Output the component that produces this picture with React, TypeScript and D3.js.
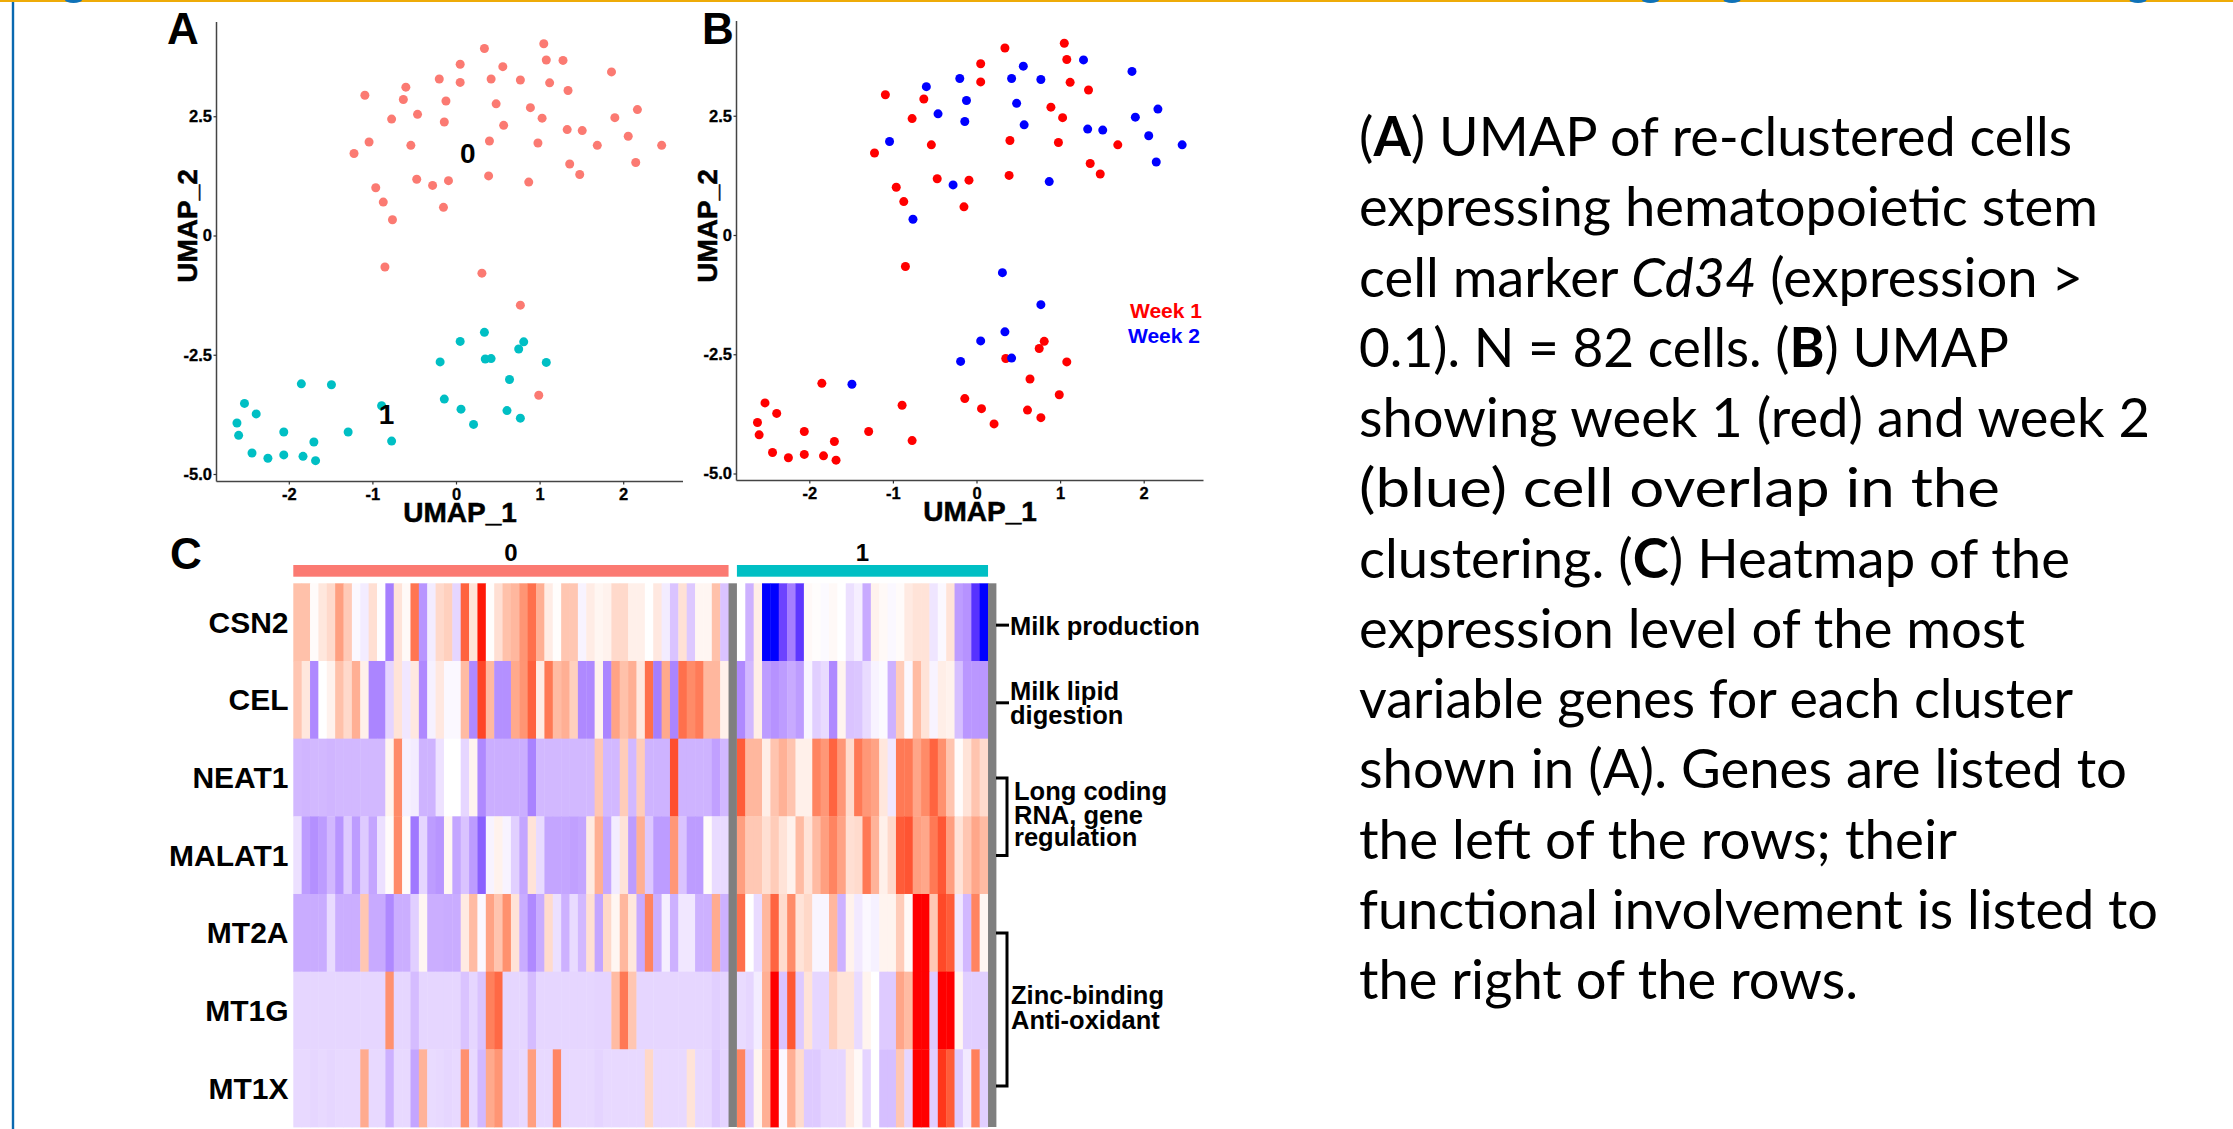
import React, { useEffect, useRef } from "react";
import * as d3 from "d3";

const WIDTH = 2233;
const HEIGHT = 1129;
const SANS = "'Liberation Sans', Arial, sans-serif";

// UMAP coordinates, one entry per cell
const umap1 = [
  0.34, 1.05, 1.08, 1.28, 0.05, 0.56, 1.86, -0.2, 0.42, 0.77, 0.05, 1.12, -0.6, 1.34, -1.09, -0.63, -0.12, 0.48, 0.89, 2.17,
  -0.46, 1.9, 1.03, -0.77, -0.14, 0.57, 1.33, 1.51, 2.06, 0.4, -1.04, 0.98, 1.69, 2.46, -0.54, -1.22, 1.36, 2.15, 1.48, 0.39,
  -0.47, -0.09, -0.28, 0.87, -0.96, -0.87, -0.15, -0.76, -0.85, 0.31, 0.77, 0.99,
  0.34, 0.05, 0.81, 0.75, 0.35, 0.42, -0.19, 1.08, 0.64, -0.14, 0.06, 0.61, 0.77, 0.21, -1.85, -1.49, -2.53, -2.39, -2.62, -2.6,
  -2.06, -1.29, -1.7, -0.77, -0.89, -2.44, -2.25, -2.06, -1.83, -1.68,
];
const umap2 = [
  3.92, 4.02, 3.68, 3.67, 3.59, 3.54, 3.43, 3.28, 3.28, 3.26, 3.21, 3.2, 3.11, 3.04, 2.94, 2.85, 2.82, 2.76, 2.68, 2.64,
  2.54, 2.47, 2.46, 2.44, 2.38, 2.31, 2.22, 2.2, 2.08, 1.98, 1.96, 1.94, 1.89, 1.89, 1.89, 1.72, 1.5, 1.53, 1.28, 1.25,
  1.18, 1.15, 1.05, 1.12, 1.0, 0.7, 0.59, 0.33, -0.66, -0.79, -1.46, -3.35,
  -2.03, -2.22, -2.23, -2.38, -2.59, -2.58, -2.65, -2.66, -3.02, -3.43, -3.64, -3.67, -3.83, -3.96, -3.11, -3.13, -3.52, -3.74, -3.93, -4.19,
  -4.12, -4.12, -4.33, -4.31, -3.57, -4.56, -4.67, -4.6, -4.63, -4.72,
];
const clusters = [
  0, 0, 0, 0, 0, 0, 0, 0, 0, 0, 0, 0, 0, 0, 0, 0, 0, 0, 0, 0, 0, 0, 0, 0, 0, 0,
  0, 0, 0, 0, 0, 0, 0, 0, 0, 0, 0, 0, 0, 0, 0, 0, 0, 0, 0, 0, 0, 0, 0, 0, 0, 0,
  1, 1, 1, 1, 1, 1, 1, 1, 1, 1, 1, 1, 1, 1, 1, 1, 1, 1, 1, 1, 1, 1, 1, 1, 1, 1, 1, 1, 1, 1,
];
const weeks = [
  1, 1, 1, 2, 1, 2, 2, 2, 2, 2, 1, 1, 2, 1, 1, 1, 2, 2, 1, 2,
  2, 2, 1, 1, 2, 2, 2, 2, 2, 1, 2, 1, 1, 2, 1, 1, 1, 2, 1, 1,
  1, 1, 2, 2, 1, 1, 1, 2, 1, 2, 2, 1,
  2, 2, 1, 1, 1, 2, 2, 1, 1, 1, 1, 1, 1, 1, 1, 2, 1, 1, 1, 1,
  1, 1, 1, 1, 1, 1, 1, 1, 1, 1,
];

const clusterLabels = [
  { name: "0", x: 0.14, y: 1.74 },
  { name: "1", x: -0.83, y: -3.73 },
];
const xTicks = [-2, -1, 0, 1, 2];
const yTicks = [2.5, 0, -2.5, -5];

// heatmap: 52 cells of cluster 0, then 30 cells of cluster 1
const genes = ["CSN2", "CEL", "NEAT1", "MALAT1", "MT2A", "MT1G", "MT1X"];
const csn2 = [
  0.33, 0.33, 0.02, 0.13, 0.2, 0.5, 0.28, -0.03, -0.08, 0.17, -0.01, -0.55, 0.15, 0.03, 0.7, -0.45, -0.08, 0.2, 0.25, -0.17,
  0.78, 0.15, 0.98, 0.01, 0.17, 0.33, 0.38, 0.55, 0.72, 0.42, 0.1, 0.01, 0.3, 0.3, -0.05, 0.1, 0.05, 0.07, 0.2, 0.2,
  0.08, 0.08, 0, 0.12, -0.08, -0.25, 0.16, -0.23, 0.05, 0.05, 0.33, -0.25,
  0, -0.33, 0.09, -1, -1, -0.8, -0.55, -0.85, 0.03, 0.01, -0.02, 0.03, 0, -0.13, -0.07, -0.36, 0.07, 0.03, -0.03, 0.02,
  0.11, 0.15, 0.15, -0.11, -0.03, 0.15, -0.42, -0.46, -0.87, -1,
];
const cel = [
  0.3, 0.13, -0.5, 0, 0.07, 0.33, 0.2, 0.42, 0.08, -0.52, -0.52, -0.18, 0.15, -0.1, 0.12, -0.5, -0.06, 0.12, -0.03, -0.03,
  0.36, -0.5, 0.88, 0.37, -0.47, -0.47, 0.45, 0.55, 0.78, 0.1, 0.68, 0.36, 0.42, 0.25, -0.5, -0.5, 0.07, -0.52, 0.48, 0.33,
  0.42, 0.12, 0.72, -0.55, 0.45, -0.52, 0.72, 0.6, 0.67, 0.38, 0.38, 0.08,
  -0.5, -0.3, 0.09, -0.42, -0.46, -0.42, -0.36, -0.42, -0.04, -0.2, -0.15, -0.5, 0.06, -0.25, -0.24, -0.15, -0.05, -0.02, -0.33, 0.27,
  -0.03, 0.36, 0.15, -0.05, 0.09, 0.07, -0.27, -0.44, -0.44, -0.44,
];
const neat1 = [
  -0.3, -0.31, -0.3, -0.3, -0.31, -0.3, -0.3, -0.3, -0.3, -0.3, -0.3, 0.06, 0.6, -0.06, -0.08, -0.32, -0.32, -0.12, 0, 0,
  -0.17, 0.06, -0.5, -0.34, -0.34, -0.34, -0.34, -0.34, -0.53, -0.3, -0.3, -0.3, -0.3, -0.3, -0.3, -0.3, 0.3, -0.3, -0.3, 0.27,
  -0.3, 0.27, -0.32, -0.32, -0.32, 0.85, -0.32, -0.32, -0.32, -0.32, -0.4, -0.3,
  0.8, 0.38, 0.38, 0.09, 0.31, 0.41, 0.31, 0.08, 0.08, 0.63, 0.54, 0.77, 0.54, 0.19, 0.68, 0.54, 0.48, 0.13, -0.1, 0.68,
  0.68, 0.47, 0.6, 0.77, 0.57, 0.31, 0.02, 0.15, 0.31, 0.19,
];
const malat1 = [
  -0.13, -0.42, -0.47, -0.42, -0.3, -0.45, -0.22, -0.42, -0.22, -0.38, -0.13, 0.02, 0.6, 0.02, -0.58, -0.17, -0.42, -0.45, 0.05, -0.38,
  -0.25, -0.42, -0.68, -0.05, 0.07, -0.05, -0.2, -0.38, 0.15, -0.15, -0.38, -0.38, -0.38, -0.4, -0.38, 0.11, 0.42, -0.37, -0.08, 0.15,
  -0.42, 0.42, -0.23, -0.42, -0.42, 0.54, -0.25, -0.42, -0.42, 0.02, -0.15, -0.15,
  0.5, 0.29, 0.29, 0.17, 0.27, 0.15, 0.07, 0.36, 0.15, 0.36, 0.5, 0.63, 0.48, 0.17, 0.19, 0.68, 0.4, 0.08, 0.2, 0.8,
  0.83, 0.5, 0.46, 0.68, 0.82, 0.5, 0.15, 0.3, 0.46, 0.36,
];
const mt2a = [
  -0.35, -0.35, -0.35, -0.35, -0.15, -0.34, -0.34, -0.34, 0.3, -0.36, -0.36, -0.5, -0.34, -0.34, -0.2, 0.05, -0.34, -0.34, -0.35, -0.35,
  0.11, 0.36, -0.03, 0.48, 0.31, 0.57, 0.15, -0.35, -0.5, -0.35, 0.19, -0.13, -0.33, -0.15, -0.3, 0.17, -0.38, 0.21, 0.05, 0.38,
  0.13, -0.36, 0.63, -0.34, -0.07, -0.33, -0.1, -0.1, -0.33, -0.33, 0.44, -0.33,
  0.72, 0, -0.15, 0.38, 0.77, 0.19, 0.6, 0.15, 0.21, -0.04, -0.04, 0.38, -0.33, 0.07, -0.09, -0.03, -0.06, 0.06, 0.06, 0.27,
  0.03, 1, 1, 0.29, 0.87, 0.8, -0.1, -0.3, 0.63, 0.05,
];
const mt1g = [
  -0.17, -0.17, -0.17, -0.17, -0.17, -0.17, -0.17, -0.17, -0.17, -0.17, -0.17, 0.57, -0.17, -0.17, -0.28, -0.17, -0.17, -0.17, -0.17, -0.17,
  -0.25, -0.17, -0.25, 0.65, 0.75, -0.17, -0.17, -0.17, -0.28, -0.17, -0.17, -0.17, -0.17, -0.17, -0.17, -0.17, -0.18, -0.18, 0.36, 0.68,
  0.3, -0.17, -0.17, -0.17, -0.17, -0.17, -0.17, -0.17, -0.17, -0.17, -0.2, -0.18,
  -0.15, -0.17, -0.08, 0.42, 1, -0.25, 0.82, -0.22, 0.15, -0.17, -0.17, 0.25, 0.15, 0.15, -0.15, 0.06, 0, -0.22, -0.22, 0.47,
  0.36, 1, 1, -0.22, 1, 1, 0.05, -0.2, -0.2, -0.2,
];
const mt1x = [
  -0.16, -0.16, -0.17, -0.16, -0.17, -0.16, -0.16, -0.16, 0.44, -0.16, -0.16, -0.33, -0.16, -0.16, -0.38, 0.4, -0.15, -0.16, -0.17, -0.16,
  0.57, -0.16, -0.3, 0.45, 0.55, -0.18, -0.18, -0.16, 0.5, -0.16, -0.16, 0.62, -0.16, -0.16, -0.16, -0.16, -0.18, -0.16, -0.16, -0.16,
  -0.16, -0.16, 0.21, -0.16, -0.16, -0.16, -0.16, 0.15, -0.16, -0.16, -0.22, -0.18,
  0.63, -0.22, 0.06, 0.42, 1, -0.03, 0.42, 0.19, -0.22, -0.22, -0.17, -0.17, -0.17, 0.11, 0.03, -0.18, 0, -0.27, -0.27, 0.3,
  -0.17, 1, 1, -0.2, 0.92, 0.8, -0.22, -0.09, 0.65, -0.2,
];
const rows = [csn2, cel, neat1, malat1, mt2a, mt1g, mt1x];

const clusterColors = ["#fb7a72", "#00bfc4"];
const weekColors = { 1: "#ff0000", 2: "#0000ff" };

const captionLines = [
  { end: 2072, runs: [["(", ""], ["A", "b"], [") UMAP of re-clustered cells", ""]] },
  { end: 2098, runs: [["expressing hematopoietic stem", ""]] },
  { end: 2083, runs: [["cell marker ", ""], ["Cd34", "i"], [" (expression >", ""]] },
  { end: 2009, runs: [["0.1). N = 82 cells. (", ""], ["B", "b"], [") UMAP", ""]] },
  { end: 2150, runs: [["showing week 1 (red) and week 2", ""]] },
  { end: 2000, runs: [["(blue) cell overlap in the", ""]] },
  { end: 2070, runs: [["clustering. (", ""], ["C", "b"], [") Heatmap of the", ""]] },
  { end: 2025, runs: [["expression level of the most", ""]] },
  { end: 2073, runs: [["variable genes for each cluster", ""]] },
  { end: 2127, runs: [["shown in (A). Genes are listed to", ""]] },
  { end: 1957, runs: [["the left of the rows; their", ""]] },
  { end: 2158, runs: [["functional involvement is listed to", ""]] },
  { end: 1858, runs: [["the right of the rows.", ""]] },
];

function drawUmap(g, opts) {
  const x = d3.scaleLinear().domain([0, 1]).range([opts.originX, opts.originX + 83.6]);
  const y = d3.scaleLinear().domain([0, 1]).range([opts.originY, opts.originY - 47.7]);

  const xAxis = g.append("g")
    .attr("transform", `translate(0,${opts.bottom})`)
    .call(d3.axisBottom(x).tickValues(xTicks).tickFormat(d => String(d)).tickSize(3).tickPadding(4));
  const yAxis = g.append("g")
    .attr("transform", `translate(${opts.left},0)`)
    .call(d3.axisLeft(y).tickValues(yTicks).tickFormat(d => (d === 0 ? "0" : d.toFixed(1))).tickSize(3).tickPadding(1.5));

  // ggplot's axis lines stop at the panel, so swap the domain paths for plain lines
  xAxis.select(".domain").attr("d", `M${opts.left},0H${opts.right}`);
  yAxis.select(".domain").attr("d", `M0,${opts.top}V${opts.bottom}`);
  [xAxis, yAxis].forEach(a => {
    a.select(".domain").attr("stroke", "#444").attr("stroke-width", 1.5);
    a.selectAll(".tick line").attr("stroke", "#333").attr("stroke-width", 1.2);
    a.selectAll(".tick text")
      .attr("fill", "#000")
      .attr("stroke", "#000")
      .attr("stroke-width", 0.3)
      .attr("font-family", SANS)
      .attr("font-weight", "bold")
      .attr("font-size", 16.5);
  });

  g.append("g")
    .selectAll("circle")
    .data(d3.range(umap1.length))
    .join("circle")
    .attr("cx", i => x(umap1[i]))
    .attr("cy", i => y(umap2[i]))
    .attr("r", 4.5)
    .attr("fill", opts.color);

  g.append("text")
    .attr("x", opts.titleX)
    .attr("y", opts.titleY)
    .attr("text-anchor", "middle")
    .attr("font-family", SANS)
    .attr("font-weight", "bold")
    .attr("font-size", 28)
    .attr("stroke", "#000")
    .attr("stroke-width", 0.5)
    .text("UMAP_1");
  g.append("text")
    .attr("transform", `translate(${opts.ylabX},226) rotate(-90)`)
    .attr("text-anchor", "middle")
    .attr("font-family", SANS)
    .attr("font-weight", "bold")
    .attr("font-size", 28)
    .attr("stroke", "#000")
    .attr("stroke-width", 0.5)
    .text("UMAP_2");
  return { x, y };
}

function drawHeatmap(g) {
  const columns = d3.range(84);
  const gapColumns = [52, 83];
  const x = d3.scaleBand().domain(columns).range([293.3, 996.4]);
  const y = d3.scaleBand().domain(genes).range([583.3, 1127]);
  const color = d3.scaleLinear()
    .domain([-1, 0, 1])
    .range(["#0000ff", "#ffffff", "#ff0000"])
    .interpolate(d3.interpolateLab);

  // cell index -> column, skipping the grey spacer between the clusters
  const colOf = i => (i < 52 ? i : i + 1);

  genes.forEach((gene, r) => {
    g.append("g")
      .selectAll("rect")
      .data(rows[r])
      .join("rect")
      .attr("x", (d, i) => x(colOf(i)))
      .attr("y", y(gene))
      .attr("width", x.bandwidth() + 0.4)
      .attr("height", y.bandwidth() + 0.4)
      .attr("fill", d => color(d));
  });

  g.append("g")
    .selectAll("rect")
    .data(gapColumns)
    .join("rect")
    .attr("x", d => x(d))
    .attr("y", y(genes[0]))
    .attr("width", x.bandwidth())
    .attr("height", y.step() * genes.length)
    .attr("fill", "#7f7f7f");

  // cluster bars and their labels
  [[0, 51], [53, 82]].forEach(([from, to], k) => {
    const x0 = x(from);
    const x1 = x(to) + x.bandwidth();
    g.append("rect")
      .attr("x", x0)
      .attr("y", 565)
      .attr("width", x1 - x0)
      .attr("height", 11.7)
      .attr("fill", clusterColors[k]);
    g.append("text")
      .attr("x", (x0 + x1) / 2)
      .attr("y", 560.5)
      .attr("text-anchor", "middle")
      .attr("font-family", SANS)
      .attr("font-weight", "bold")
      .attr("font-size", 24)
      .text(k);
  });

  g.append("g")
    .selectAll("text")
    .data(genes)
    .join("text")
    .attr("x", 288.5)
    .attr("y", d => y(d) + y.bandwidth() / 2)
    .attr("dy", "0.35em")
    .attr("text-anchor", "end")
    .attr("font-family", SANS)
    .attr("font-weight", "bold")
    .attr("font-size", 30)
    .text(d => d);

  return y;
}

function addLabel(g, x, y, text, size = 25.5) {
  g.append("text")
    .attr("x", x)
    .attr("y", y)
    .attr("font-family", SANS)
    .attr("font-weight", "bold")
    .attr("font-size", size)
    .text(text);
}

export default function App() {
  const ref = useRef(null);

  useEffect(() => {
    const svg = d3.select(ref.current);
    svg.selectAll("*").remove();

    // slide frame
    svg.append("rect").attr("x", 11.8).attr("y", 0).attr("width", 2.4).attr("height", HEIGHT).attr("fill", "#0a69b0");
    svg.append("rect").attr("width", WIDTH).attr("height", 2).attr("fill", "#eeab08");
    [73.5, 1650.5, 1732, 2138].forEach(cx => {
      svg.append("ellipse").attr("cx", cx).attr("cy", 0).attr("rx", 8.5).attr("ry", 3).attr("fill", "#0f72b8");
    });

    // panel A
    const a = drawUmap(svg.append("g"), {
      originX: 456, originY: 235.5, left: 216.5, right: 683, top: 22, bottom: 481.5,
      titleX: 460, titleY: 522, ylabX: 197,
      color: i => clusterColors[clusters[i]],
    });
    svg.append("g")
      .selectAll("text")
      .data(clusterLabels)
      .join("text")
      .attr("x", d => a.x(d.x))
      .attr("y", d => a.y(d.y))
      .attr("dy", "0.36em")
      .attr("text-anchor", "middle")
      .attr("font-family", SANS)
      .attr("font-weight", "bold")
      .attr("font-size", 28)
      .text(d => d.name);

    // panel B
    drawUmap(svg.append("g"), {
      originX: 976.5, originY: 235, left: 736.5, right: 1203.5, top: 21, bottom: 480.5,
      titleX: 980, titleY: 521, ylabX: 716.5,
      color: i => weekColors[weeks[i]],
    });
    svg.append("g").attr("fill", weekColors[1]).call(s => addLabel(s, 1130, 318, "Week 1", 21));
    svg.append("g").attr("fill", weekColors[2]).call(s => addLabel(s, 1128, 343, "Week 2", 21));

    // panel letters
    addLabel(svg, 167, 44, "A", 44);
    addLabel(svg, 702, 44, "B", 44);
    addLabel(svg, 170, 569, "C", 44);

    // panel C
    const y = drawHeatmap(svg.append("g"));

    // annotations right of the heatmap
    const notes = svg.append("g");
    const line = d3.line();
    const mid = gene => y(gene) + y.bandwidth() / 2;
    const stroke = p => notes.append("path")
      .attr("d", line(p))
      .attr("fill", "none")
      .attr("stroke", "#000")
      .attr("stroke-width", 3);
    stroke([[996, mid("CSN2") + 3], [1009, mid("CSN2") + 3]]);
    stroke([[996, mid("CEL") + 3], [1009, mid("CEL") + 3]]);
    stroke([[996, 778], [1007, 778], [1007, 855.5], [996, 855.5]]);
    stroke([[996, 933], [1007, 933], [1007, 1086], [996, 1086]]);

    addLabel(notes, 1010, 635, "Milk production");
    addLabel(notes, 1010, 699.5, "Milk lipid");
    addLabel(notes, 1010, 723.5, "digestion");
    addLabel(notes, 1014, 800, "Long coding");
    addLabel(notes, 1014, 824, "RNA, gene");
    addLabel(notes, 1014, 846, "regulation");
    addLabel(notes, 1011, 1004, "Zinc-binding");
    addLabel(notes, 1011, 1029, "Anti-oxidant");

    // caption
    const lineY = d3.scaleLinear().domain([0, 1]).range([156, 226.25]);
    captionLines.forEach((l, i) => {
      const t = svg.append("text")
        .attr("x", 1359)
        .attr("y", lineY(i))
        .attr("font-family", "Lato, sans-serif")
        .attr("font-size", 55)
        .attr("textLength", l.end - 1359)
        .attr("lengthAdjust", "spacingAndGlyphs")
        .attr("fill", "#000");
      l.runs.forEach(([s, style]) => {
        t.append("tspan")
          .attr("font-weight", style === "b" ? "bold" : "normal")
          .attr("font-style", style === "i" ? "italic" : "normal")
          .text(s);
      });
    });
  }, []);

  return (
    <svg
      ref={ref}
      width={WIDTH}
      height={HEIGHT}
      style={{ position: "absolute", left: 0, top: 0, display: "block", background: "#fff" }}
    />
  );
}
